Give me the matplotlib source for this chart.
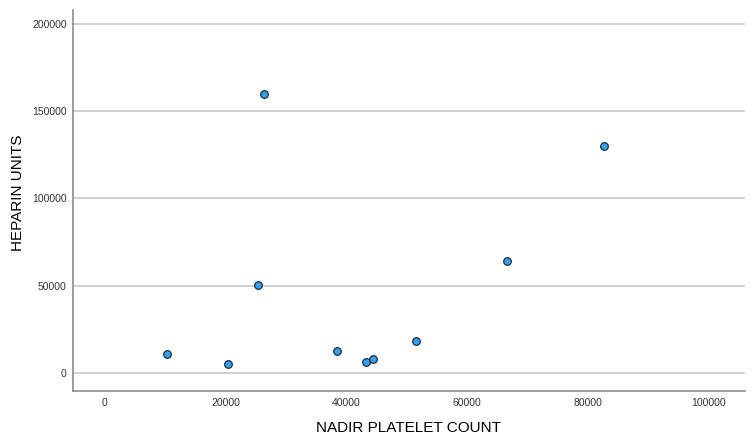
import matplotlib.pyplot as plt

# data
platelets = [10300, 20400, 25400, 26400, 38500, 43300, 44400, 51600, 66700, 82800]
heparin = [11000, 5200, 50400, 160000, 12800, 6600, 8200, 18500, 64200, 130000]

x_ticks = [0, 20000, 40000, 60000, 80000, 100000]
y_ticks = [0, 50000, 100000, 150000, 200000]

plt.rcParams['font.family'] = ['Liberation Sans', 'DejaVu Sans']

fig = plt.figure(figsize=(7.54, 4.38), dpi=100)
ax = fig.add_axes([73 / 754, 47 / 438, 672 / 754, 381 / 438])

ax.scatter(platelets, heparin, s=30, color='#35A0EA', edgecolors='#1f2d3a',
           linewidths=0.9, zorder=3)

ax.set_xlim(-5300, 106100)
ax.set_ylim(-10300, 208000)
ax.set_xticks(x_ticks)
ax.set_yticks(y_ticks)
ax.set_xticklabels([str(v) for v in x_ticks])
ax.set_yticklabels([str(v) for v in y_ticks])
ax.tick_params(length=0, labelsize=7.5, colors='#333333')
ax.tick_params(axis='y', pad=4.5)
ax.tick_params(axis='x', pad=5)

ax.yaxis.grid(True, color='#c8c8c8', linewidth=1.2)
ax.set_axisbelow(True)

for side in ['top', 'right']:
    ax.spines[side].set_visible(False)
for side in ['left', 'bottom']:
    ax.spines[side].set_color('#8c8c8c')
    ax.spines[side].set_linewidth(1.2)

# axis titles placed where the reference has them
fig.text(409 / 754, 1 - 428 / 438, 'NADIR PLATELET COUNT', fontsize=11,
         ha='center', va='center', color='#000000')
fig.text(18 / 754, 1 - 193 / 438, 'HEPARIN UNITS', fontsize=11,
         ha='center', va='center', rotation=90, color='#000000')

fig.savefig('out.png', dpi=100)
